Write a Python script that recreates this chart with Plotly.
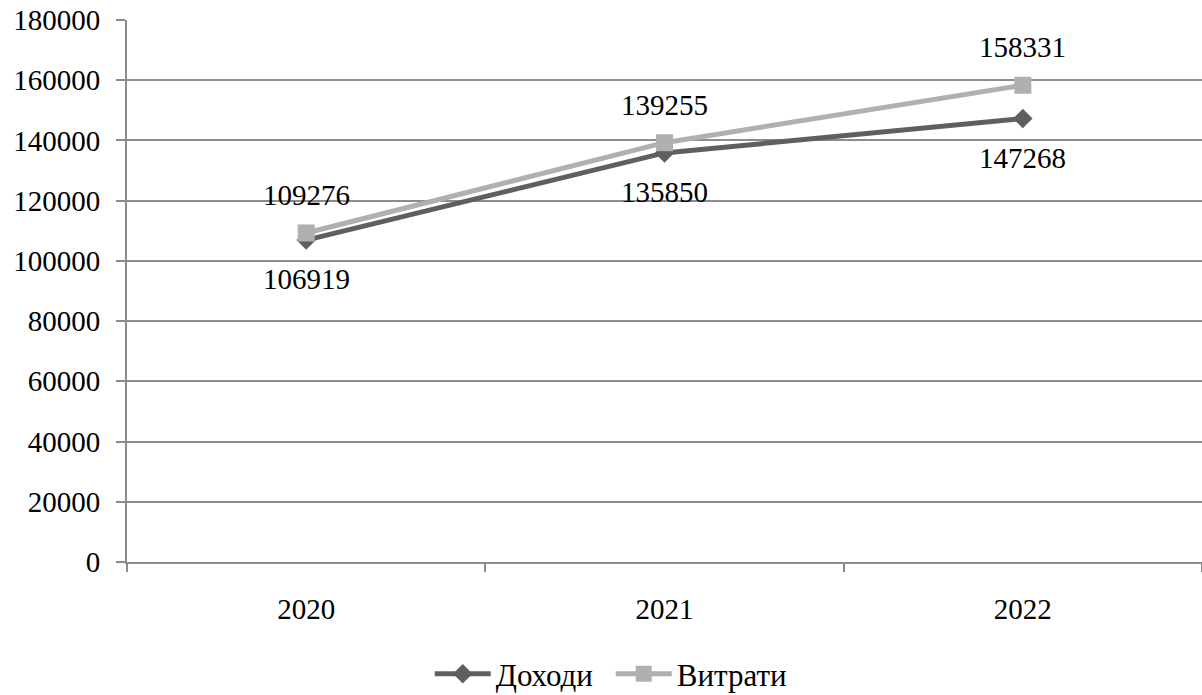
import plotly.graph_objects as go

years = ["2020", "2021", "2022"]
income = [106919, 135850, 147268]
expenses = [109276, 139255, 158331]
y_ticks = list(range(0, 180001, 20000))

FONT = "Liberation Serif"
GRID = "#8c8c8c"

fig = go.Figure()
fig.add_trace(go.Scatter(
    x=years, y=income, name="Доходи", mode="lines+markers",
    line=dict(color="#5f5f5f", width=5),
    marker=dict(symbol="diamond", size=15, color="#5f5f5f"),
))
fig.add_trace(go.Scatter(
    x=years, y=expenses, name="Витрати", mode="lines+markers",
    line=dict(color="#b0b0b0", width=5),
    marker=dict(symbol="square", size=17, color="#b0b0b0"),
))

# value labels: income below its points, expenses above
# (annotation x is the category index on the category axis)
for i, v in enumerate(income):
    fig.add_annotation(x=i, y=v, text=str(v), showarrow=False,
                       yshift=-39, font=dict(family=FONT, size=29, color="black"))
for i, v in enumerate(expenses):
    fig.add_annotation(x=i, y=v, text=str(v), showarrow=False,
                       yshift=38, font=dict(family=FONT, size=29, color="black"))

fig.update_layout(
    width=1202, height=695,
    margin=dict(l=127, r=0, t=20, b=133, autoexpand=False),
    paper_bgcolor="white", plot_bgcolor="white",
    font=dict(family=FONT, size=29, color="black"),
    showlegend=True,
    legend=dict(orientation="h", x=0.45, xanchor="center", y=-0.207, yanchor="middle",
                font=dict(family=FONT, size=31, color="black"),
                itemwidth=56, entrywidth=110),
)
fig.update_xaxes(
    type="category", range=[-0.5, 2.5], tickson="boundaries", automargin=False,
    showline=True, linecolor=GRID, linewidth=2,
    ticks="outside", ticklen=8, tickcolor=GRID, tickwidth=2,
    showgrid=False, ticklabelstandoff=20,
)
fig.update_yaxes(
    range=[0, 180000], tickvals=y_ticks, ticktext=[str(t) for t in y_ticks],
    automargin=False,
    showline=True, linecolor=GRID, linewidth=2,
    ticks="outside", ticklen=9, tickcolor=GRID, tickwidth=2,
    showgrid=True, gridcolor=GRID, gridwidth=1.5, zeroline=False,
    ticklabelstandoff=10,
)

fig.write_html("out.html")
